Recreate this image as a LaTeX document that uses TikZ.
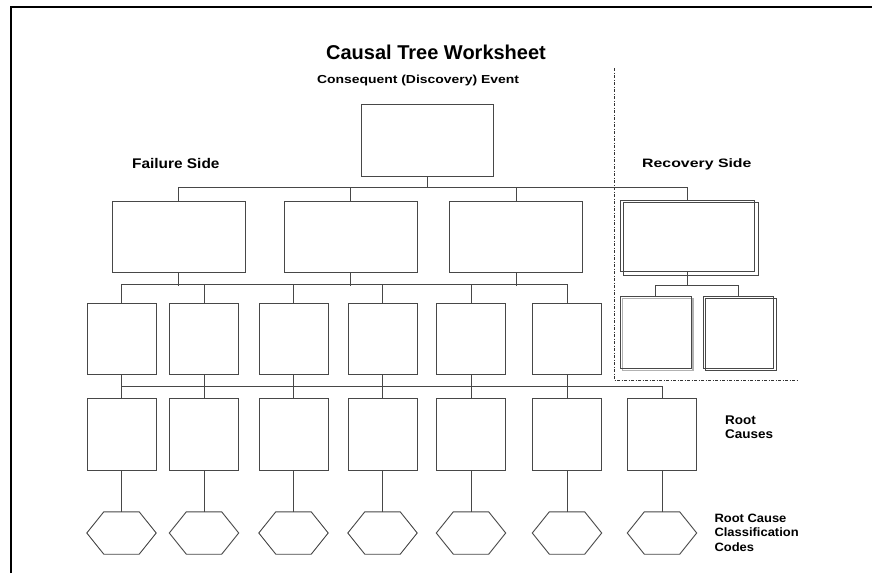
\documentclass[tikz,border=0pt]{standalone}
\usepackage{fontspec}
\setmainfont{Liberation Sans}
\newfontfamily\fcons[FakeStretch=1.2]{Liberation Sans}
\newfontfamily\ffail[FakeStretch=1.1]{Liberation Sans}
\newfontfamily\frec[FakeStretch=1.3]{Liberation Sans}
\newfontfamily\froot[FakeStretch=1.07]{Liberation Sans}
\begin{document}
\begin{tikzpicture}[x=1pt,y=-1pt,
  ln/.style={draw=black!72, line width=1pt},
  box/.style={ln, fill=white, inner sep=0pt},
  bigbox/.style={box, minimum width=133pt, minimum height=71pt},
  sqbox/.style={box, minimum width=69pt, minimum height=71pt},
  rtbox/.style={box, minimum width=69pt, minimum height=72pt},
  hexnode/.style={inner sep=0pt, minimum width=69pt, minimum height=42pt},
  sepline/.style={draw=black!80, line width=0.9pt, dash pattern=on 3pt off 1.5pt on 1pt off 1.5pt},
  lbl/.style={inner sep=0pt}
]
\useasboundingbox (0,0) rectangle (872,573);
\fill[white] (0,0) rectangle (872,573);
% frame
\draw[line width=2pt, black] (11,573) -- (11,7) -- (872,7);

% texts
\node[lbl, anchor=base, font={\fontsize{20}{24}\selectfont\bfseries}] (title) at (436,59) {Causal Tree Worksheet};
\node[lbl, anchor=base, font={\fcons\fontsize{11.6}{14}\selectfont\bfseries}] (cons) at (418,83.3) {Consequent (Discovery) Event};
\node[lbl, anchor=base west, font={\ffail\fontsize{14}{16}\selectfont\bfseries}] (fail) at (132,168) {Failure Side};
\node[lbl, anchor=base west, font={\frec\fontsize{12.2}{14}\selectfont\bfseries}] (rec) at (642,167.7) {Recovery Side};
\node[lbl, anchor=north west, align=left, font={\froot\fontsize{12.6}{13.3}\selectfont\bfseries}] (rc) at (725,416) {Root\\Causes};
\node[lbl, anchor=north west, align=left, font={\froot\fontsize{12.1}{14.3}\selectfont\bfseries}] (rcc) at (714.3,514) {Root Cause\\Classification\\Codes};

% separator
\coordinate (s1) at (614,68);
\coordinate (s2) at (614,380);
\coordinate (s3) at (799,380);
\draw[sepline] (s1) -- (s2) -- (s3);

% top event
\node[box, minimum width=132pt, minimum height=72pt] (top) at (427,140) {};

% failure side level 2
\node[bigbox] (f1) at (178.5,236.5) {};
\node[bigbox] (f2) at (350.5,236.5) {};
\node[bigbox] (f3) at (516,236.5) {};

% recovery side
\node[ln, inner sep=0pt, minimum width=134pt, minimum height=71pt] (rm) at (687.7,236.2) {};
\draw[ln] ([shift={(3.3pt,-2.6pt)}]rm.north west) rectangle ([shift={(3pt,-3pt)}]rm.south east);
\node[inner sep=0pt, minimum width=70.3pt, minimum height=71.6pt] (ra) at (655.85,332.5) {};
\draw[draw=black!30, line width=1.6pt] ([shift={(2pt,-2pt)}]ra.north west) rectangle ([shift={(2pt,-2pt)}]ra.south east);
\draw[ln] (ra.north west) rectangle (ra.south east);
\node[ln, inner sep=0pt, minimum width=70pt, minimum height=71.6pt] (rb) at (738.7,332.5) {};
\draw[ln] ([shift={(2pt,-2pt)}]rb.north west) rectangle ([shift={(2pt,-2pt)}]rb.south east);

% level 3 and root causes
\foreach \n/\x in {1/121.5,2/204,3/293.5,4/382.5,5/471,6/567}
  \node[sqbox] (a\n) at (\x,338.5) {};
\foreach \n/\x in {1/121.5,2/204,3/293.5,4/382.5,5/471,6/567,7/662}{
  \node[rtbox] (b\n) at (\x,434) {};
  \node[hexnode] (h\n) at (\x,533) {};
  \draw[ln, line width=0.9pt] (h\n.west) -- ([xshift=17pt]h\n.north west) -- ([xshift=-17pt]h\n.north east)
     -- (h\n.east) -- ([xshift=-17pt]h\n.south east) -- ([xshift=17pt]h\n.south west) -- cycle;
}

% connectors: top event to level 2
\foreach \c in {f1,f2,f3,rm}
  \draw[ln] (top.south) -- ++(0,11) -| (\c.north);
% level 2 to level 3
\draw[ln] (a1.north) -- ++(0,-18) -| (a6.north);
\foreach \p in {f1,f2,f3}
  \draw[ln] (\p.south) -- ++(0,13);
\foreach \c in {a2,a3,a4,a5}
  \draw[ln] (\c.north) -- ++(0,-18);
% recovery
\draw[ln] (rm.south) -- ++(0,13.3) -| (ra.north);
\draw[ln] (rm.south) -- ++(0,13.3) -| (rb.north);
% level 3 to root causes
\draw[ln] ([yshift=-12pt]a1.south) -| (b7.north);
\foreach \n in {1,...,6}
  \draw[ln] (a\n.south) -- (b\n.north);
% root causes to codes
\foreach \n in {1,...,7}
  \draw[ln] (b\n.south) -- (h\n.north);
\end{tikzpicture}
\end{document}
